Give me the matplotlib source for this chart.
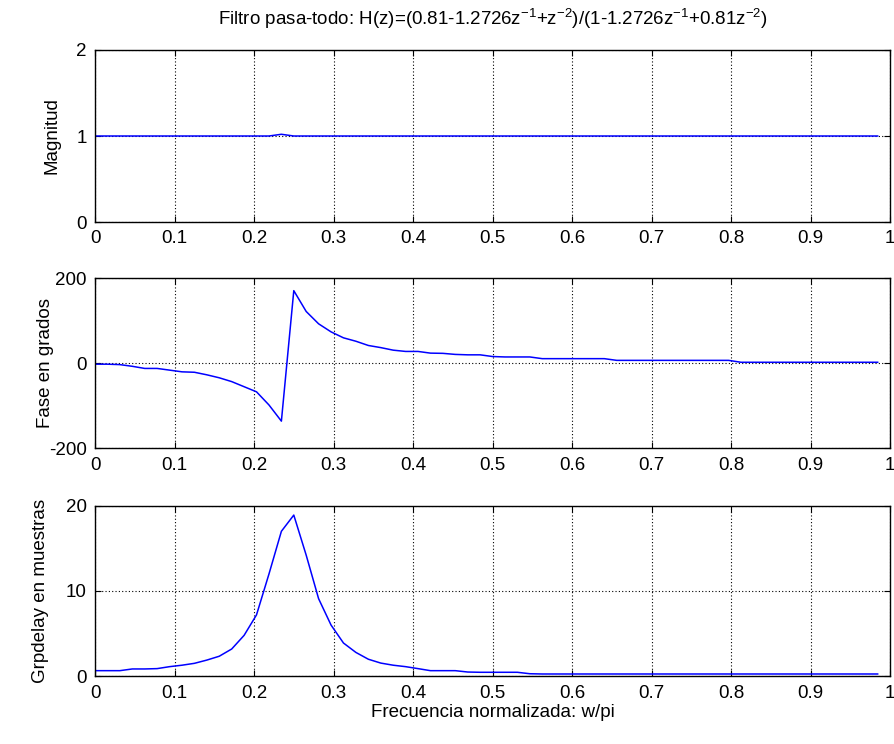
import matplotlib
matplotlib.use("Agg")
import matplotlib.pyplot as plt

plt.rcParams['font.family'] = ['Liberation Sans', 'DejaVu Sans']
plt.rcParams['mathtext.fontset'] = 'custom'
plt.rcParams['mathtext.rm'] = 'Liberation Sans'
plt.rcParams['mathtext.default'] = 'regular'
plt.rcParams['axes.unicode_minus'] = False

# frequency grid (w/pi), 64 points
freq = [0.0000, 0.0156, 0.0312, 0.0469, 0.0625, 0.0781, 0.0938, 0.1094,
        0.1250, 0.1406, 0.1562, 0.1719, 0.1875, 0.2031, 0.2188, 0.2344,
        0.2500, 0.2656, 0.2812, 0.2969, 0.3125, 0.3281, 0.3438, 0.3594,
        0.3750, 0.3906, 0.4062, 0.4219, 0.4375, 0.4531, 0.4688, 0.4844,
        0.5000, 0.5156, 0.5312, 0.5469, 0.5625, 0.5781, 0.5938, 0.6094,
        0.6250, 0.6406, 0.6562, 0.6719, 0.6875, 0.7031, 0.7188, 0.7344,
        0.7500, 0.7656, 0.7812, 0.7969, 0.8125, 0.8281, 0.8438, 0.8594,
        0.8750, 0.8906, 0.9062, 0.9219, 0.9375, 0.9531, 0.9688, 0.9844]

magnitud = [1.0, 1.0, 1.0, 1.0, 1.0, 1.0, 1.0, 1.0,
            1.0, 1.0, 1.0, 1.0, 1.0, 1.0, 1.0, 1.02,
            1.0, 1.0, 1.0, 1.0, 1.0, 1.0, 1.0, 1.0,
            1.0, 1.0, 1.0, 1.0, 1.0, 1.0, 1.0, 1.0,
            1.0, 1.0, 1.0, 1.0, 1.0, 1.0, 1.0, 1.0,
            1.0, 1.0, 1.0, 1.0, 1.0, 1.0, 1.0, 1.0,
            1.0, 1.0, 1.0, 1.0, 1.0, 1.0, 1.0, 1.0,
            1.0, 1.0, 1.0, 1.0, 1.0, 1.0, 1.0, 1.0]

fase = [-2, -2, -3, -7, -12, -12, -16, -20,
        -21, -27, -34, -43, -55, -67, -98, -136,
        171, 122, 93, 74, 60, 52, 42, 37,
        31, 28, 28, 24, 23.5, 21, 20, 20,
        16, 15, 15, 15, 11, 11, 11, 11,
        11, 11, 7, 7, 7, 7, 7, 7,
        7, 7, 7, 7, 2.5, 2.5, 2.5, 2.5,
        2.5, 2.5, 2.5, 2.5, 2.5, 2.5, 2.5, 2.5]

grpdelay = [0.66, 0.66, 0.66, 0.86, 0.86, 0.9, 1.13, 1.3,
            1.52, 1.9, 2.35, 3.2, 4.8, 7.2, 12.0, 17.0,
            18.9, 14.2, 9.1, 6.0, 3.9, 2.8, 2.0, 1.55,
            1.3, 1.13, 0.9, 0.66, 0.66, 0.66, 0.5, 0.47,
            0.47, 0.47, 0.47, 0.3, 0.27, 0.27, 0.27, 0.27,
            0.27, 0.27, 0.27, 0.27, 0.27, 0.27, 0.27, 0.27,
            0.27, 0.27, 0.27, 0.27, 0.27, 0.27, 0.27, 0.27,
            0.27, 0.27, 0.27, 0.27, 0.27, 0.27, 0.27, 0.27]

xticks = [0, 0.1, 0.2, 0.3, 0.4, 0.5, 0.6, 0.7, 0.8, 0.9, 1]
xticklabels = ['0', '0.1', '0.2', '0.3', '0.4', '0.5', '0.6', '0.7', '0.8', '0.9', '1']

fig = plt.figure(figsize=(8.94, 7.44), dpi=100)

rects = [[0.1063, 0.7016, 0.8893, 0.2312],
         [0.1063, 0.3974, 0.8893, 0.2285],
         [0.1063, 0.0910, 0.8893, 0.2293]]
series = [magnitud, fase, grpdelay]
ylims = [(0, 2), (-200, 200), (0, 20)]
yticks = [[0, 1, 2], [-200, 0, 200], [0, 10, 20]]
ylabels = ['Magnitud', 'Fase en grados', 'Grpdelay en muestras']
ylabel_x = [-0.043, -0.052, -0.058]

for i in range(3):
    ax = fig.add_axes(rects[i])
    ax.plot(freq, series[i], color=(0, 0, 1), linewidth=1.1)
    ax.set_xlim(0, 1)
    ax.set_ylim(*ylims[i])
    ax.set_xticks(xticks)
    ax.set_xticklabels(xticklabels)
    ax.set_yticks(yticks[i])
    ax.set_ylabel(ylabels[i], fontsize=13.5)
    ax.yaxis.set_label_coords(ylabel_x[i], 0.5)
    ax.grid(True, color='black', linestyle=(0, (1, 2)), linewidth=0.8)
    ax.tick_params(direction='in', top=True, right=True, length=4,
                   labelsize=13.5, width=0.8, pad=6)
    for sp in ax.spines.values():
        sp.set_linewidth(1.0)
    if i == 0:
        ax.set_title(r'Filtro pasa-todo: H(z)=(0.81-1.2726z$^{-1}$+z$^{-2}$)/(1-1.2726z$^{-1}$+0.81z$^{-2}$)',
                     fontsize=13.5, pad=18)
    if i == 2:
        ax.set_xlabel('Frecuencia normalizada: w/pi', fontsize=13.5, labelpad=2)

fig.savefig('out.png', dpi=100)
